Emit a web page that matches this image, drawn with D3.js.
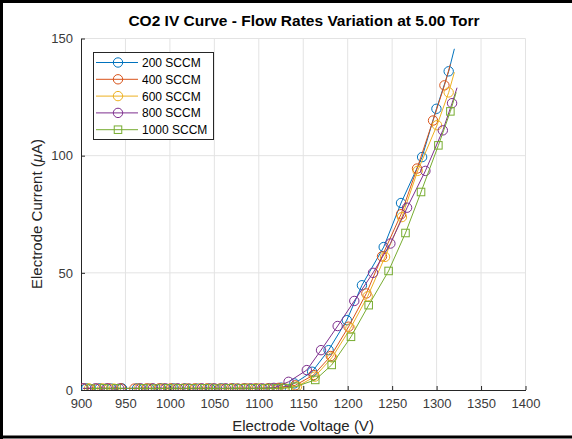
<!DOCTYPE html>
<html>
<head>
<meta charset="utf-8">
<script src="https://cdn.jsdelivr.net/npm/d3@7/dist/d3.min.js"></script>
<style>
  html, body { margin: 0; padding: 0; background: #fff; }
  svg { display: block; font-family: "Liberation Sans", Arial, Helvetica, sans-serif; }
</style>
</head>
<body>
<svg id="chart" width="572" height="439"></svg>
<script>
// ---------- data ----------
const seriesNames = ["200 SCCM", "400 SCCM", "600 SCCM", "800 SCCM", "1000 SCCM"];
const seriesColors = ["#0072BD", "#D95319", "#EDB120", "#7E2F8E", "#77AC30"];
const seriesMarkers = ["circle", "circle", "circle", "circle", "square"];

const v200 = [906, 921, 934, 946, 963, 977, 990, 1004, 1017, 1031, 1045, 1058, 1071, 1085, 1098, 1112, 1125, 1140, 1160, 1178.5, 1199, 1216, 1240.5, 1260, 1283.7, 1299.8, 1313.6];
const i200 = [0.7, 0.7, 0.6, 0.7, 0.7, 0.6, 0.7, 0.7, 0.7, 0.6, 0.7, 0.7, 0.7, 0.7, 0.6, 0.8, 1.0, 2.8, 7.8, 17, 29.8, 44.7, 61, 79.8, 99.4, 120, 136];
const v400 = [903, 918, 931, 945, 960, 974, 988, 1001, 1015, 1028, 1042, 1056, 1069, 1083, 1096, 1110, 1122, 1141, 1161.6, 1181, 1201, 1221, 1238.6, 1260, 1278, 1296, 1308.8];
const i400 = [0.7, 0.6, 0.7, 0.7, 0.6, 0.7, 0.7, 0.7, 0.6, 0.7, 0.7, 0.6, 0.7, 0.7, 0.7, 0.7, 0.9, 2.0, 6.4, 14.5, 27, 41.2, 57, 75, 94.5, 115, 130];
const v600 = [909, 924, 937, 965, 979, 993, 1007, 1020, 1034, 1048, 1061, 1075, 1088, 1101, 1115, 1128, 1143, 1163, 1182.5, 1203, 1222.5, 1242, 1261, 1278.7, 1300.5, 1313.6];
const i600 = [0.7, 0.7, 0.6, 0.7, 0.7, 0.7, 0.6, 0.7, 0.7, 0.7, 0.6, 0.7, 0.7, 0.7, 0.7, 0.9, 1.5, 5.7, 13.9, 26.3, 40, 56.8, 73.8, 93.5, 113, 127];
const v800 = [902, 916, 929, 943, 967, 981, 995, 1009, 1022, 1036, 1050, 1063, 1077, 1091, 1104, 1117, 1133.5, 1154, 1170, 1188.7, 1207.4, 1228.5, 1248, 1266.8, 1287.4, 1307, 1317.4];
const i800 = [0.7, 0.7, 0.7, 0.6, 0.7, 0.7, 0.7, 0.7, 0.6, 0.7, 0.7, 0.7, 0.6, 0.7, 0.7, 0.9, 3.5, 8.5, 17, 27.3, 38, 50, 62.5, 77.8, 93.5, 110.8, 122.4];
const v1000 = [911, 926, 940, 970, 984, 998, 1011, 1025, 1039, 1052, 1066, 1080, 1093, 1107, 1120, 1130, 1141, 1163.5, 1182, 1203.7, 1223.6, 1246, 1265, 1282.5, 1302, 1315.5];
const i1000 = [0.6, 0.7, 0.7, 0.7, 0.6, 0.7, 0.7, 0.7, 0.7, 0.6, 0.7, 0.7, 0.7, 0.7, 0.7, 0.8, 1.4, 4.3, 10.7, 22.7, 36.2, 50.8, 67, 84.5, 104.4, 118.9];
// line end points (the curve runs a little past the last marker)
const tailV = [1320, 1315.5, 1320, 1323, 1322];
const tailI = [145.6, 139, 135.6, 129, 127];

const xTicks = [900, 950, 1000, 1050, 1100, 1150, 1200, 1250, 1300, 1350, 1400];
const yTicks = [0, 50, 100, 150];

const titleText = "CO2 IV Curve - Flow Rates Variation at 5.00 Torr";
const xLabelText = "Electrode Voltage (V)";

const allV = [v200, v400, v600, v800, v1000];
const allI = [i200, i400, i600, i800, i1000];

// ---------- layout ----------
const svg = d3.select("#chart");
const L = 81, R = 525.5, T = 38.5, B = 390;
const x = d3.scaleLinear().domain([900, 1400]).range([L, R]);
const y = d3.scaleLinear().domain([0, 150]).range([B, T]);
const axisColor = "#262626";

// frame
svg.append("rect").attr("x", 0).attr("y", 0).attr("width", 572).attr("height", 439).attr("fill", "#fff");
svg.append("path").attr("d", "M1.5,439 V1.5 H572").attr("fill", "none").attr("stroke", "#000").attr("stroke-width", 3);
svg.append("line").attr("x1", 0).attr("x2", 572).attr("y1", 437).attr("y2", 437).attr("stroke", "#000").attr("stroke-width", 3);

// grid
const grid = svg.append("g");
grid.selectAll(".gx").data(xTicks.slice(1)).enter().append("line")
  .attr("x1", d => x(d)).attr("x2", d => x(d)).attr("y1", T).attr("y2", B)
  .attr("stroke", "#e3e3e3").attr("stroke-width", 1);
grid.selectAll(".gy").data(yTicks.slice(1)).enter().append("line")
  .attr("x1", L).attr("x2", R).attr("y1", d => y(d)).attr("y2", d => y(d))
  .attr("stroke", "#e3e3e3").attr("stroke-width", 1);

// axes
const xAxis = svg.append("g").attr("transform", `translate(0,${B})`)
  .call(d3.axisBottom(x).tickValues(xTicks).tickSizeInner(-4).tickSizeOuter(0).tickPadding(9).tickFormat(d3.format("d")));
const yAxis = svg.append("g").attr("transform", `translate(${L},0)`)
  .call(d3.axisLeft(y).tickValues(yTicks).tickSizeInner(-4).tickSizeOuter(0).tickPadding(8).tickFormat(d3.format("d")));
[xAxis, yAxis].forEach(a => {
  a.select(".domain").attr("stroke", axisColor);
  a.selectAll(".tick line").attr("stroke", axisColor);
  a.selectAll(".tick text").attr("fill", "#3a3a3a").attr("font-size", 13)
    .attr("font-family", "'Liberation Sans', Arial, sans-serif");
});

// clip for data
svg.append("clipPath").attr("id", "clip").append("rect")
  .attr("x", L).attr("y", T).attr("width", R - L).attr("height", B - T);

const line = d3.line().x(d => x(d[0])).y(d => y(d[1]));
const plot = svg.append("g").attr("clip-path", "url(#clip)");

function drawMarker(g, type, cx, cy, color, size) {
  if (type === "circle") {
    g.append("circle").attr("cx", cx).attr("cy", cy).attr("r", size)
      .attr("fill", "none").attr("stroke", color).attr("stroke-width", 1);
  } else {
    const s = size * 0.8;
    g.append("rect").attr("x", cx - s).attr("y", cy - s).attr("width", 2 * s).attr("height", 2 * s)
      .attr("fill", "none").attr("stroke", color).attr("stroke-width", 1);
  }
}

seriesNames.forEach((name, k) => {
  const pts = allV[k].map((v, j) => [v, allI[k][j]]);
  const linePts = pts.concat([[tailV[k], tailI[k]]]);
  const g = plot.append("g");
  g.append("path").datum(linePts).attr("d", line)
    .attr("fill", "none").attr("stroke", seriesColors[k]).attr("stroke-width", 1);
  pts.forEach(p => drawMarker(g, seriesMarkers[k], x(p[0]), y(p[1]), seriesColors[k], 4.7));
});

// title and labels
svg.append("text").attr("x", 304).attr("y", 26).attr("text-anchor", "middle")
  .attr("font-size", 15.5).attr("font-weight", "bold").attr("fill", "#000").text(titleText);
svg.append("text").attr("x", 303).attr("y", 431).attr("text-anchor", "middle")
  .attr("font-size", 15).attr("fill", "#262626").text(xLabelText);
const yl = svg.append("text").attr("transform", "translate(42,214) rotate(-90)").attr("text-anchor", "middle")
  .attr("font-size", 15).attr("fill", "#262626");
yl.append("tspan").text("Electrode Current (");
yl.append("tspan").attr("font-style", "italic").text("\u03BC");
yl.append("tspan").text("A)");

// legend
const lg = svg.append("g");
lg.append("rect").attr("x", 93.5).attr("y", 52.5).attr("width", 120).attr("height", 87)
  .attr("fill", "#fff").attr("stroke", axisColor).attr("stroke-width", 1);
seriesNames.forEach((name, k) => {
  const yy = 62.5 + k * 16.8;
  lg.append("line").attr("x1", 96).attr("x2", 138).attr("y1", yy).attr("y2", yy)
    .attr("stroke", seriesColors[k]).attr("stroke-width", 1);
  drawMarker(lg, seriesMarkers[k], 118, yy, seriesColors[k], 4.7);
  lg.append("text").attr("x", 142).attr("y", yy + 4.5).attr("font-size", 12)
    .attr("fill", "#000").text(name);
});
</script>
</body>
</html>
